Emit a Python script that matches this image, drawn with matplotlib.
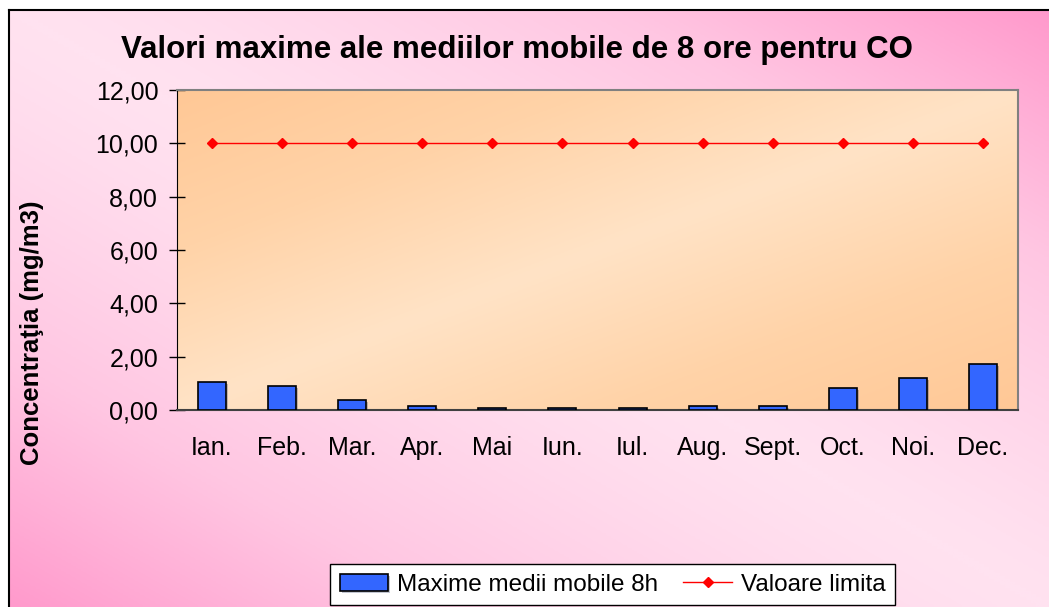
import numpy as np
import matplotlib.pyplot as plt
import matplotlib.patheffects as pe
from matplotlib.colors import LinearSegmentedColormap

plt.rcParams['font.family'] = ['Liberation Sans', 'DejaVu Sans']

# data
months = ['Ian.', 'Feb.', 'Mar.', 'Apr.', 'Mai', 'Iun.', 'Iul.', 'Aug.', 'Sept.', 'Oct.', 'Noi.', 'Dec.']
max_8h = [1.04, 0.89, 0.36, 0.14, 0.06, 0.06, 0.06, 0.14, 0.14, 0.81, 1.19, 1.71]
limit = [10, 10, 10, 10, 10, 10, 10, 10, 10, 10, 10, 10]
yticks = [0, 2, 4, 6, 8, 10, 12]

W, H = 1049, 607
fig = plt.figure(figsize=(W / 100, H / 100), dpi=100)
fig.patch.set_facecolor('white')


def grad(n, flip):
    # diagonal gradient, dark at two opposite corners, light in the middle
    x = np.linspace(0, 1, n)
    X, Y = np.meshgrid(x, x)
    u = (X + Y) / 2 if not flip else (X - Y + 1) / 2
    return np.abs(u - 0.5) * 2


# figure background (pink)
bg = fig.add_axes([9 / W, 0, 1 - 9 / W, 1 - 10 / H])
pink = LinearSegmentedColormap.from_list('p', ['#ffe2f0', '#ffc6e2', '#ff9acc'])
bg.imshow(grad(200, False) ** 1.3, cmap=pink, aspect='auto', origin='lower',
          extent=[0, 1, 0, 1], vmin=0, vmax=1)
bg.set_xlim(0, 1)
bg.set_ylim(0, 1)
bg.set_xticks([])
bg.set_yticks([])
for s in ['right', 'bottom']:
    bg.spines[s].set_visible(False)
for s in ['left', 'top']:
    bg.spines[s].set_color('black')
    bg.spines[s].set_linewidth(1.5)

ax = fig.add_axes([177 / W, 1 - 410 / H, (1018 - 177) / W, (410 - 90) / H])
peach = LinearSegmentedColormap.from_list('o', ['#ffe3c6', '#ffd3a8', '#ffc896'])
ax.imshow(grad(200, True), cmap=peach, aspect='auto', origin='lower',
          extent=[-0.5, 11.5, 0, 12], vmin=0, vmax=1, zorder=0)

x = np.arange(len(months))
bars = ax.bar(x, max_8h, width=0.4, color='#3366ff', edgecolor='black', linewidth=1.2,
              zorder=3, label='Maxime medii mobile 8h')
for b in bars:
    b.set_path_effects([pe.SimplePatchShadow(offset=(1.5, -1.5), alpha=0.25), pe.Normal()])
line, = ax.plot(x, limit, color='red', linewidth=1, marker='D', markersize=5.5,
                zorder=4, label='Valoare limita')

ax.set_xlim(-0.5, 11.5)
ax.set_ylim(0, 12)
ax.set_yticks(yticks)
ax.set_yticklabels(['{:.2f}'.format(v).replace('.', ',') for v in yticks], fontsize=18)
ax.set_xticks(x)
ax.set_xticklabels(months, fontsize=18)
ax.tick_params(axis='y', direction='inout', length=11, width=1, pad=8)
ax.tick_params(axis='x', length=0, pad=19)
ax.spines['left'].set_color('black')
ax.spines['bottom'].set_color('#404040')
ax.spines['bottom'].set_linewidth(1.5)
for s in ['top', 'right']:
    ax.spines[s].set_color('#808080')
    ax.spines[s].set_linewidth(1.5)

fig.text(517 / W, 1 - 50 / H, 'Valori maxime ale mediilor mobile de 8 ore pentru CO',
         fontsize=22.5, fontweight='bold', ha='center', va='center')
fig.text(32 / W, 1 - 333 / H, 'Concentraţia (mg/m3)', fontsize=18.5, fontweight='bold',
         rotation=90, ha='center', va='center')

leg = fig.legend(handles=[bars, line], loc='upper left', bbox_to_anchor=(330 / W, 1 - 564 / H),
                 ncol=2, fontsize=17.5, frameon=True, fancybox=False, borderpad=0.4,
                 borderaxespad=0, handlelength=2.0, columnspacing=1.05, handletextpad=0.35)
leg.get_frame().set_edgecolor('black')
leg.get_frame().set_facecolor('white')
leg.get_frame().set_alpha(1)

fig.savefig('out.png', dpi=100)
